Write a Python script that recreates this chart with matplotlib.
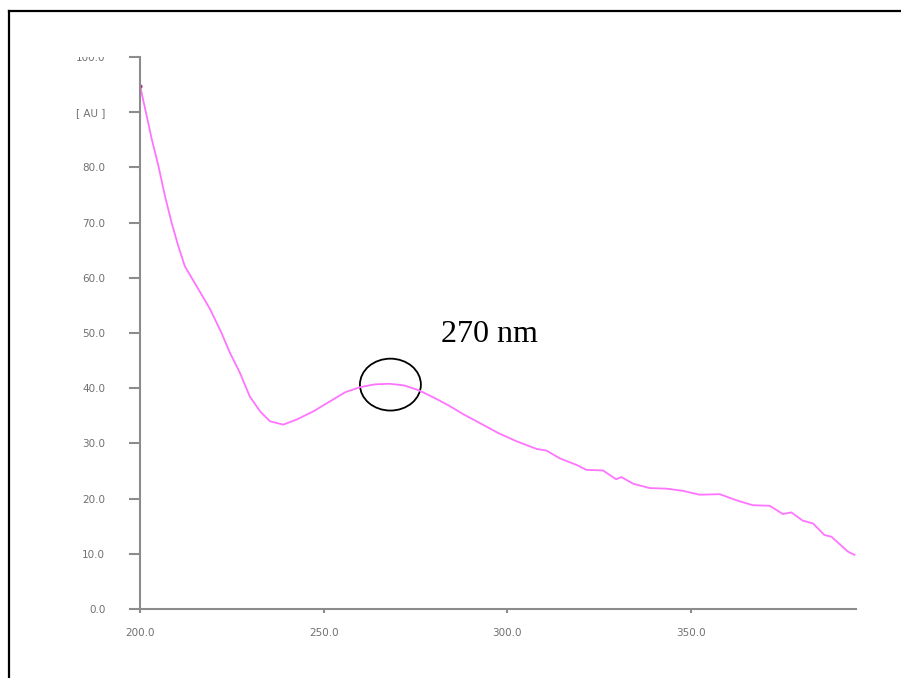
import matplotlib
matplotlib.use("Agg")
import matplotlib.pyplot as plt
from matplotlib.patches import Ellipse
from matplotlib.lines import Line2D
from matplotlib.transforms import Bbox

# spectrum
wavelength = [200.0, 201.4, 203.2, 205.0, 206.8, 208.6, 210.4, 212.2, 215.4, 219.1,
              222.2, 224.5, 227.2, 229.9, 232.7, 235.4, 239.0, 242.6, 247.2, 251.7,
              256.0, 260.0, 264.0, 268.0, 272.0, 276.0, 280.0, 284.0, 288.0, 292.5,
              297.5, 302.5, 308.0, 310.7, 314.3, 318.9, 321.6, 326.1, 329.7, 331.1,
              334.3, 338.8, 343.4, 347.9, 352.4, 357.9, 362.4, 366.9, 371.5, 375.1,
              377.4, 380.5, 383.3, 386.4, 388.3, 392.8, 394.6]
absorbance = [94.8, 90.6, 85.1, 80.3, 74.8, 70.0, 65.8, 62.1, 58.5, 54.3,
              50.0, 46.4, 42.8, 38.5, 35.8, 34.0, 33.4, 34.3, 35.8, 37.6,
              39.3, 40.2, 40.7, 40.8, 40.5, 39.6, 38.3, 36.9, 35.3, 33.7,
              31.9, 30.4, 29.0, 28.7, 27.3, 26.1, 25.2, 25.1, 23.5, 23.9,
              22.7, 21.9, 21.8, 21.4, 20.7, 20.8, 19.7, 18.8, 18.7, 17.2,
              17.5, 16.0, 15.5, 13.4, 13.1, 10.4, 9.8]

x_ticks = [200, 250, 300, 350]
x_labels = ["200.0", "250.0", "300.0", "350.0"]
y_ticks = [0, 10, 20, 30, 40, 50, 60, 70, 80, 90, 100]
y_labels = ["0.0", "10.0", "20.0", "30.0", "40.0", "50.0", "60.0", "70.0",
            "80.0", "[ AU ]", "100.0"]

peak_wl = 268.2
peak_abs = 40.65
peak_text = "270 nm"

fig = plt.figure(figsize=(9.01, 6.78), dpi=100)
ax = fig.add_axes([0.1554, 0.1018, 0.7946, 0.8141])

ax.plot(wavelength, absorbance, color="#ff74ff", lw=1.3)
ax.plot(wavelength[0], absorbance[0], "o", ms=2, color="#b03090")

ax.set_xlim(200, 395)
ax.set_ylim(0, 100)

for side in ["top", "right"]:
    ax.spines[side].set_visible(False)
for side in ["left", "bottom"]:
    ax.spines[side].set_color("#8c8c8c")
    ax.spines[side].set_linewidth(1.5)

ax.set_xticks(x_ticks)
ax.set_xticklabels(x_labels)
ax.set_yticks(y_ticks)
ax.set_yticklabels(y_labels)
ax.tick_params(axis="both", colors="#8c8c8c", labelcolor="#707070",
               labelsize=7.5, width=1.5, direction="out")
ax.tick_params(axis="x", length=3, pad=11)
ax.tick_params(axis="y", length=8, pad=17)

# top label is cut off in the original
top_lab = ax.get_yticklabels()[-1]
top_lab.set_clip_box(Bbox.from_extents(0, 0, 901, 678 - 57))
top_lab.set_clip_on(True)

# peak marker
ax.add_patch(Ellipse((peak_wl, peak_abs), 16.6, 9.4, fill=False,
                     edgecolor="black", lw=1.3, clip_on=False))
ax.text(282.0, 48.3, peak_text, fontsize=23, family="Liberation Serif",
        color="black", ha="left", va="baseline")

# page frame (left + top edges)
fig.add_artist(Line2D([0.0105, 0.0105], [0.0, 0.9838], color="black", lw=1.6))
fig.add_artist(Line2D([0.0105, 1.0], [0.9838, 0.9838], color="black", lw=1.6))

fig.savefig("out.png", dpi=100)
